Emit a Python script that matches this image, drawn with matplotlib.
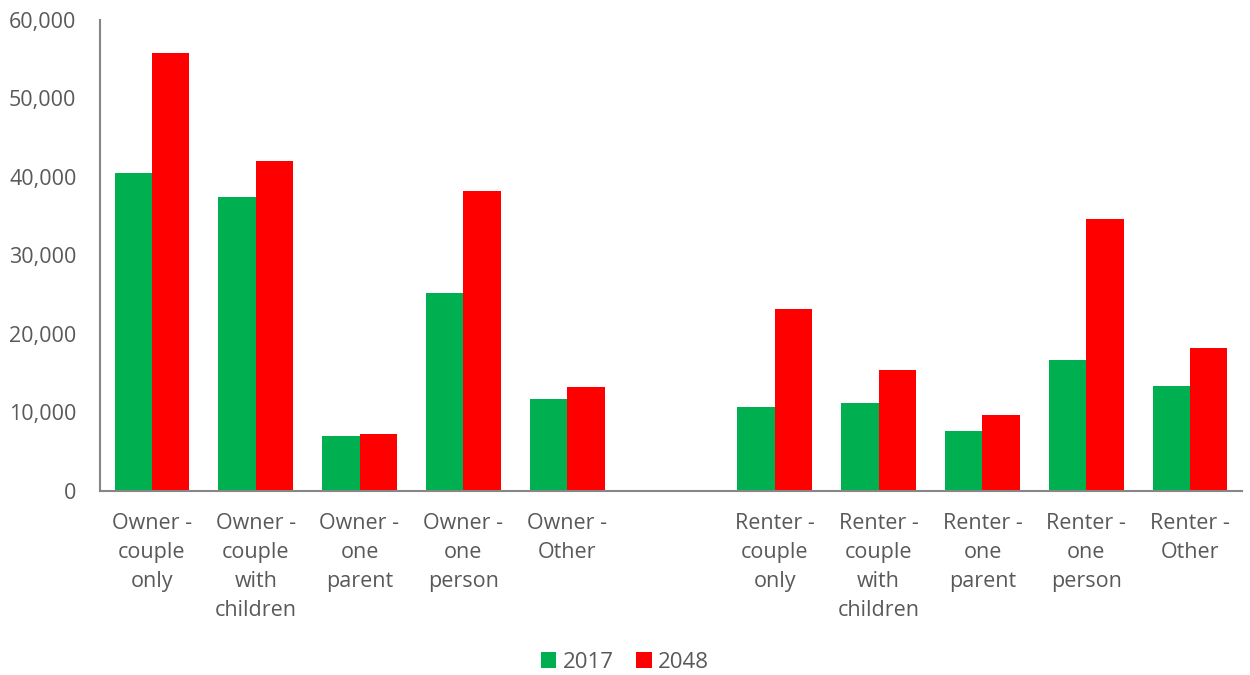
import numpy as np
import matplotlib.pyplot as plt
from matplotlib.ticker import FuncFormatter

# household type projections, owners then renters (blank slot between groups)
categories = ['Owner -\ncouple\nonly', 'Owner -\ncouple\nwith\nchildren', 'Owner -\none\nparent',
              'Owner -\none\nperson', 'Owner -\nOther', '',
              'Renter -\ncouple\nonly', 'Renter -\ncouple\nwith\nchildren', 'Renter -\none\nparent',
              'Renter -\none\nperson', 'Renter -\nOther']
vals_2017 = [40500, 37450, 7000, 25200, 11700, np.nan, 10700, 11200, 7650, 16700, 13400]
vals_2048 = [55800, 42000, 7250, 38200, 13250, np.nan, 23200, 15400, 9700, 34650, 18250]

green = '#00B050'
red = '#FF0000'
text_col = '#595959'

plt.rcParams['font.family'] = ['Open Sans', 'DejaVu Sans']

fig = plt.figure(figsize=(12.5, 6.75), dpi=100)
ax = fig.add_axes([0.08, 0.2726, 0.9136, 0.6978])

x = np.arange(len(categories))
w = 0.36
ax.bar(x - w / 2, vals_2017, width=w, color=green, label='2017')
ax.bar(x + w / 2, vals_2048, width=w, color=red, label='2048')

ax.set_xlim(-0.5, len(categories) - 0.5)
ax.set_ylim(0, 60000)
ax.set_yticks(np.arange(0, 60001, 10000))
ax.yaxis.set_major_formatter(FuncFormatter(lambda v, p: f'{int(v):,}'))
ax.set_xticks(x)
ax.set_xticklabels(categories, linespacing=1.5)

for s in ['top', 'right']:
    ax.spines[s].set_visible(False)
for s in ['left', 'bottom']:
    ax.spines[s].set_color('#868686')
    ax.spines[s].set_linewidth(1.5)

ax.tick_params(axis='y', length=0, pad=17, labelsize=15.5, labelcolor=text_col)
ax.tick_params(axis='x', length=0, pad=16, labelsize=15.5, labelcolor=text_col)

leg = fig.legend(loc='center', bbox_to_anchor=(0.5, 0.019), ncol=2, frameon=False,
                 handlelength=0.7, handleheight=0.7, handletextpad=0.3, columnspacing=1.0,
                 fontsize=16, labelcolor=text_col)

fig.savefig('out.png', dpi=100)
